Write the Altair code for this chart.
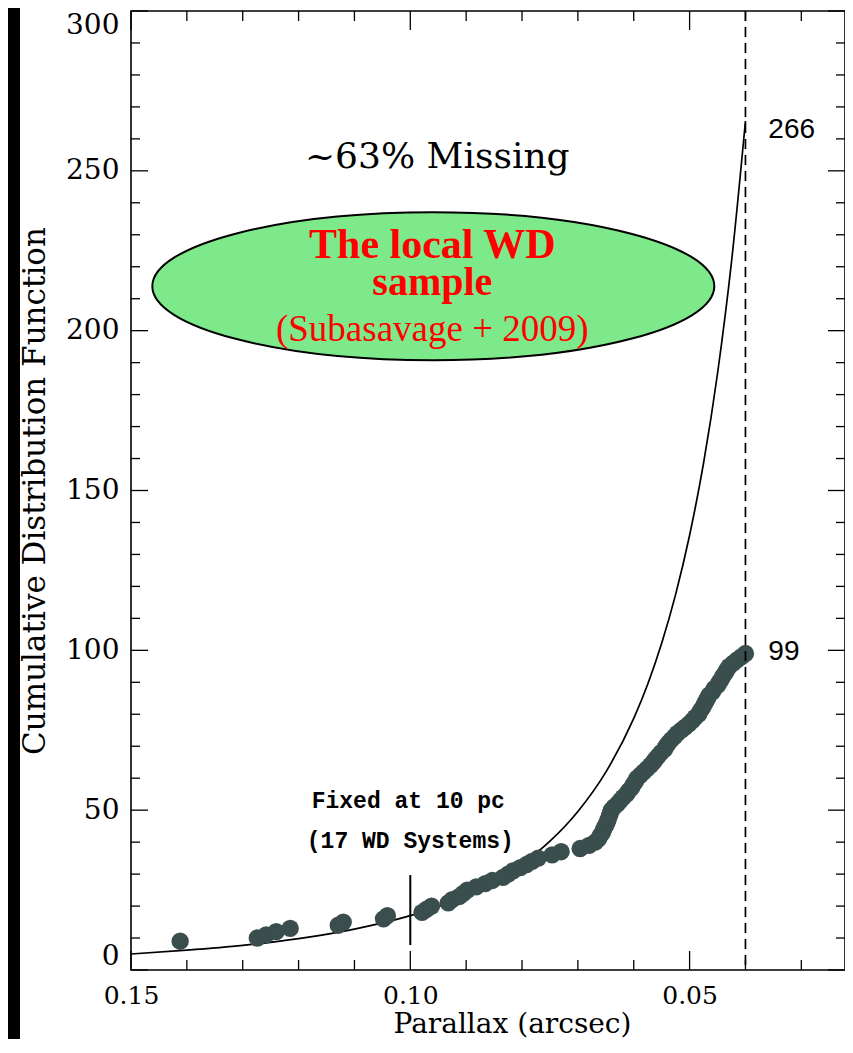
import altair as alt
import pandas as pd

# ---------------- data ----------------
cdf = list(range(9, 100))
parallax = [
    0.1412, 0.1274, 0.1258, 0.1240, 0.1215, 0.1129, 0.1120, 0.1048, 0.1041, 0.0979,
    0.0971, 0.0962, 0.0932, 0.0925, 0.0912, 0.0905, 0.0898, 0.0882, 0.0866, 0.0853,
    0.0834, 0.0825, 0.0816, 0.0803, 0.0792, 0.0782, 0.0771, 0.0746, 0.0730, 0.0696,
    0.0680, 0.0669, 0.0663, 0.0660, 0.0656, 0.0654, 0.0651, 0.0648, 0.0646, 0.0644,
    0.0642, 0.0640, 0.0635, 0.0629, 0.0624, 0.0619, 0.0613, 0.0609, 0.0604, 0.0601,
    0.0597, 0.0594, 0.0588, 0.0582, 0.0576, 0.0570, 0.0565, 0.0561, 0.0556, 0.0551,
    0.0545, 0.0542, 0.0538, 0.0533, 0.0527, 0.0522, 0.0515, 0.0508, 0.0501, 0.0495,
    0.0490, 0.0484, 0.0481, 0.0477, 0.0474, 0.0471, 0.0468, 0.0465, 0.0459, 0.0456,
    0.0450, 0.0447, 0.0443, 0.0440, 0.0436, 0.0433, 0.0429, 0.0422, 0.0415, 0.0407,
    0.0400,
]
curve_parallax = [0.15, 0.14, 0.13, 0.12, 0.11, 0.10, 0.095, 0.09, 0.085, 0.08, 0.075,
                  0.07, 0.065, 0.06, 0.0575, 0.055, 0.0525, 0.05, 0.0475, 0.045, 0.0425, 0.04]
curve_cdf = [5.0, 6.2, 7.7, 9.8, 12.8, 17.0, 19.8, 23.3, 27.7, 33.2, 40.3,
             49.6, 61.9, 78.7, 89.4, 102.2, 117.5, 136.0, 158.6, 186.6, 221.5, 265.6]
limit_parallax = [0.04]          # 25 pc limit (dashed)
ten_pc = [0.10]                   # 10 pc marker
ten_pc_lo, ten_pc_hi = [7.8], [29.7]

x_major = [0.15, 0.10, 0.05]
x_minor = [0.14, 0.13, 0.12, 0.11, 0.09, 0.08, 0.07, 0.06, 0.04, 0.03]
y_major = [0, 50, 100, 150, 200, 250, 300]
y_minor = [10, 20, 30, 40, 60, 70, 80, 90, 110, 120, 130, 140, 160, 170, 180, 190,
           210, 220, 230, 240, 260, 270, 280, 290]

# ---------------- layout ----------------
W, H = 714, 959
SERIF = "DejaVu Serif"

xs = alt.Scale(domain=[0.15 - W / 5586.0, 0.15], reverse=True, nice=False, zero=False)
ys = alt.Scale(domain=[0, 300], nice=False, zero=True)

x_axis = alt.Axis(values=x_major, format=".2f", title="Parallax (arcsec)", ticks=False,
                  domain=False, grid=False, labelFont=SERIF, labelFontSize=25,
                  labelColor="black", labelPadding=13, labelFlush=False,
                  titleFont=SERIF, titleFontSize=28, titleFontWeight="normal",
                  titleColor="black", titleX=381, titleY=62, titleBaseline="alphabetic",
                  titleAlign="center")
y_axis = alt.Axis(values=y_major, format="d", title="Cumulative Distribution Function",
                  ticks=False, domain=False, grid=False, labelFont=SERIF,
                  labelFontSize=28, labelColor="black", labelPadding=12,
                  labelFlush=True, titleFont=SERIF, titleFontSize=31,
                  titleFontWeight="normal", titleColor="black", titlePadding=14)


def X(f):
    return alt.X(f, type="quantitative", scale=xs, axis=x_axis)


def Y(f):
    return alt.Y(f, type="quantitative", scale=ys, axis=y_axis)


pts = pd.DataFrame({"p": parallax, "c": cdf})
curve = pd.DataFrame({"p": curve_parallax, "c": curve_cdf})
dummy = pd.DataFrame({"a": [0]})

layers = []

# black strip at the left edge of the picture
layers.append(alt.Chart(dummy).mark_rect(color="black").encode(
    x=alt.value(-123), x2=alt.value(-111), y=alt.value(-3), y2=alt.value(H + 69)))

# ellipse annotation
ell = pd.DataFrame({"p": [0.09588], "c": [213.9]})
ell_path = "M -1 0 A 1 0.2633 0 1 1 1 0 A 1 0.2633 0 1 1 -1 0 Z"
layers.append(alt.Chart(ell).mark_point(shape=ell_path, size=562 ** 2, filled=True,
                                        fill="#7ee98a", stroke="black", strokeWidth=2,
                                        opacity=1, fillOpacity=1).encode(x=X("p"), y=Y("c")))


def txt(p, c, s, **kw):
    d = pd.DataFrame({"p": [p], "c": [c], "t": [s]})
    return alt.Chart(d).mark_text(**kw).encode(x=X("p"), y=Y("c"), text="t:N")


layers.append(txt(0.09606, 226.8, "The local WD", font="Liberation Serif", fontSize=42,
                  fontWeight="bold", color="#ff0000", baseline="middle", align="center"))
layers.append(txt(0.09606, 215.0, "sample", font="Liberation Serif", fontSize=40,
                  fontWeight="bold", color="#ff0000", baseline="middle", align="center"))
layers.append(txt(0.09606, 200.2, "(Subasavage + 2009)", font="Liberation Serif",
                  fontSize=37, color="#ff0000", baseline="middle", align="center"))
layers.append(txt(0.09517, 254.3, "~63% Missing", font=SERIF, fontSize=36,
                  color="black", baseline="middle", align="center"))
layers.append(txt(0.10036, 53.0, "Fixed at 10 pc", font="Liberation Mono", fontSize=23,
                  fontWeight="bold", color="black", baseline="middle", align="center"))
layers.append(txt(0.1000, 40.5, "(17 WD Systems)", font="Liberation Mono", fontSize=23,
                  fontWeight="bold", color="black", baseline="middle", align="center"))
layers.append(txt(0.03591, 262.7, "266", font="Liberation Sans", fontSize=28,
                  color="black", baseline="middle", align="left"))
layers.append(txt(0.03591, 99.5, "99", font="Liberation Sans", fontSize=28,
                  color="black", baseline="middle", align="left"))

# model curve
layers.append(alt.Chart(curve).mark_line(color="black", strokeWidth=1.7,
                                         interpolate="monotone").encode(x=X("p"), y=Y("c")))
# data points
layers.append(alt.Chart(pts).mark_circle(size=300, color="#3b4e4e", opacity=1).encode(
    x=X("p"), y=Y("c")))
# dashed limit
layers.append(alt.Chart(pd.DataFrame({"p": limit_parallax})).mark_rule(
    color="black", strokeWidth=1.7, strokeDash=[10, 6]).encode(
    x=X("p"), y=alt.value(0), y2=alt.value(H)))
# 10 pc marker
layers.append(alt.Chart(pd.DataFrame({"p": ten_pc, "c1": ten_pc_lo, "c2": ten_pc_hi})).mark_rule(
    color="black", strokeWidth=2).encode(x=X("p"), y=Y("c1"), y2="c2"))

# inward ticks on all four sides
TK = dict(color="black", strokeWidth=1.3)
for vals, ln in ((x_major, 19), (x_minor, 10)):
    d = pd.DataFrame({"p": vals})
    layers.append(alt.Chart(d).mark_rule(**TK).encode(x=X("p"), y=alt.value(H), y2=alt.value(H - ln)))
    layers.append(alt.Chart(d).mark_rule(**TK).encode(x=X("p"), y=alt.value(0), y2=alt.value(ln)))
for vals, ln in ((y_major, 17), (y_minor, 9)):
    d = pd.DataFrame({"c": vals})
    layers.append(alt.Chart(d).mark_rule(**TK).encode(y=Y("c"), x=alt.value(0), x2=alt.value(ln)))
    layers.append(alt.Chart(d).mark_rule(**TK).encode(y=Y("c"), x=alt.value(W), x2=alt.value(W - ln)))

chart = alt.layer(*layers).properties(
    width=W, height=H,
    padding={"left": 123, "top": 3, "right": 0, "bottom": 69},
    autosize=alt.AutoSizeParams(type="none"),
    background="white",
).configure_view(stroke="black", strokeWidth=1.6)

chart.save("out.html", embed_options={"renderer": "svg", "actions": False})
